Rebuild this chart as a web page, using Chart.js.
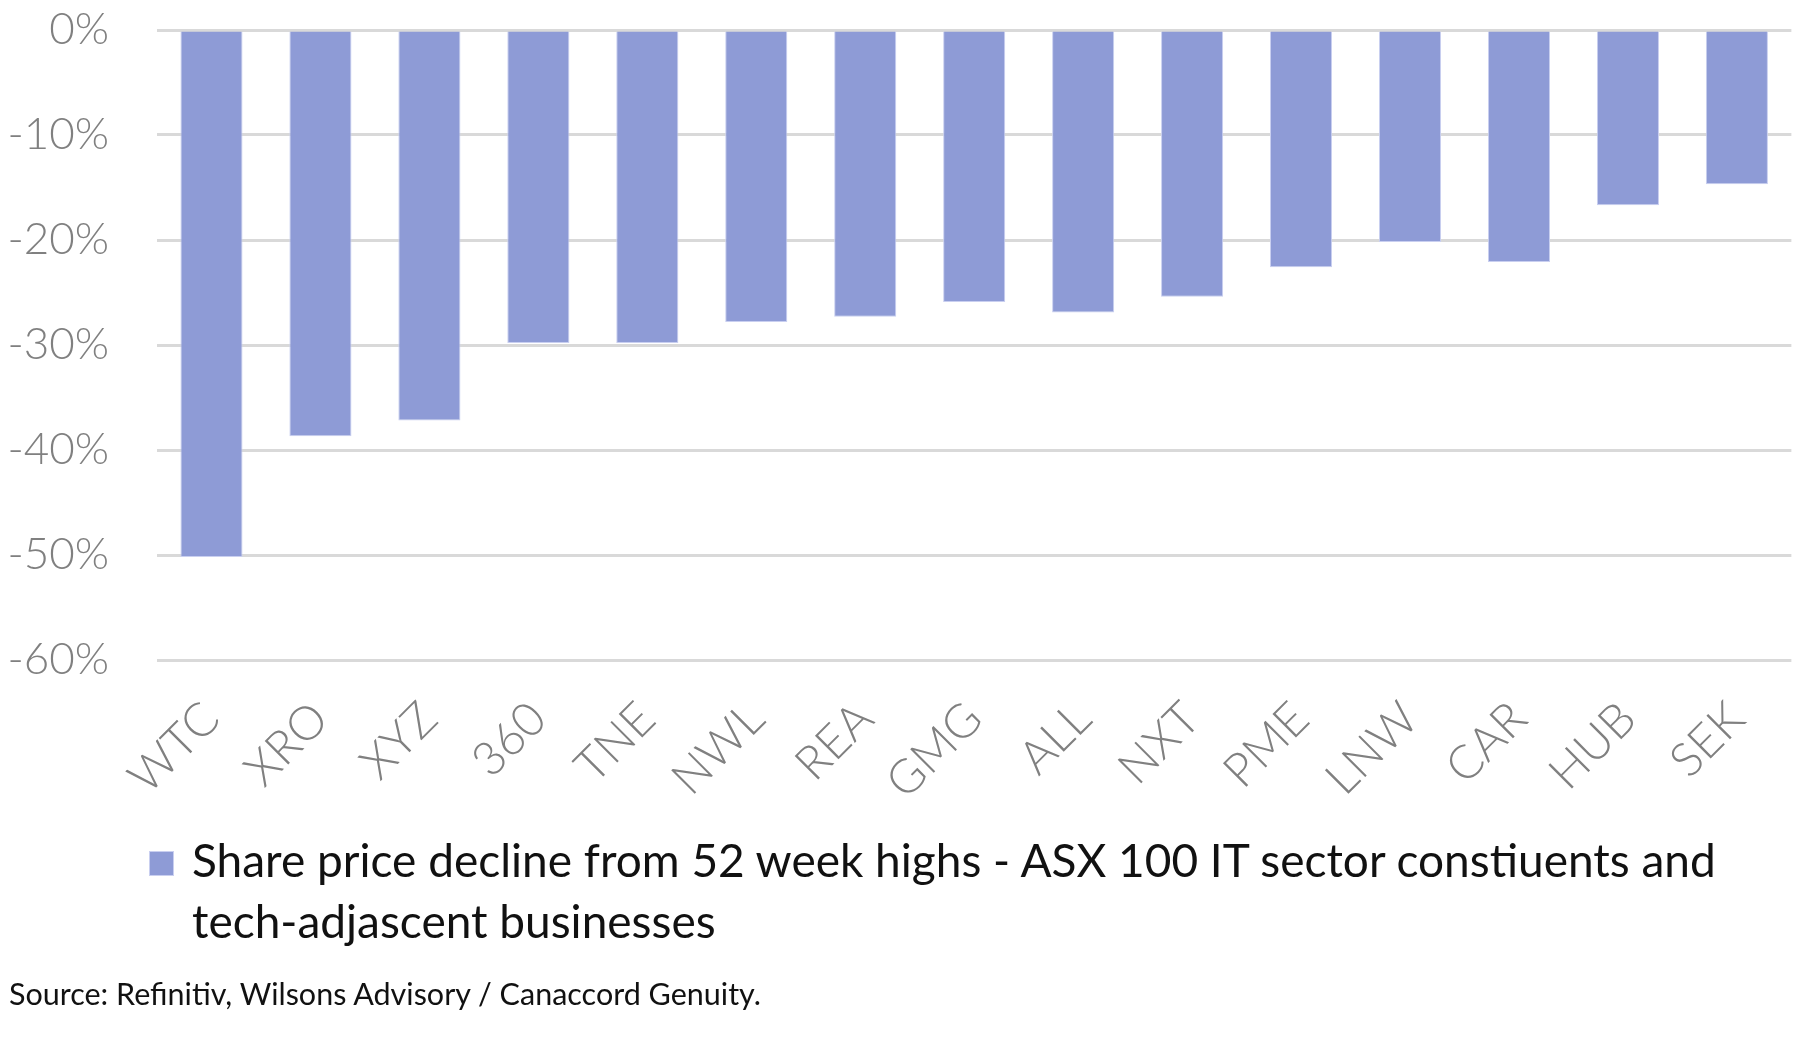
<!DOCTYPE html>
<html>
<head>
<meta charset="utf-8">
<script src="https://cdn.jsdelivr.net/npm/chart.js@4/dist/chart.umd.min.js"></script>
<style>
  html, body { margin: 0; padding: 0; background: #ffffff; }
  #wrap { position: relative; width: 1800px; height: 1060px; overflow: hidden; }
  #c { position: absolute; left: 0; top: 0; }
  #legendBox { position: absolute; left: 149px; top: 851px; width: 25px; height: 25px;
    background: #8e9bd6; border: 1px solid #c9cff0; box-sizing: border-box; }
  #legendText { position: absolute; left: 192px; top: 829px; width: 1600px;
    font-family: 'Lato', sans-serif; font-size: 46px; line-height: 61px; color: #111111; white-space: nowrap; }
  #source { position: absolute; left: 9px; top: 975px;
    font-family: 'Lato', sans-serif; font-size: 30.5px; line-height: 36px; color: #111111; white-space: nowrap; }
</style>
</head>
<body>
<div id="wrap">
  <canvas id="c" width="1800" height="1060"></canvas>
  <div id="legendBox"></div>
  <div id="legendText"></div>
  <div id="source"></div>
</div>
<script>
const categories = ['WTC','XRO','XYZ','360','TNE','NWL','REA','GMG','ALL','NXT','PME','LNW','CAR','HUB','SEK'];
const declineValues = [-50.2, -38.7, -37.2, -29.8, -29.8, -27.8, -27.3, -25.9, -26.9, -25.4, -22.6, -20.2, -22.1, -16.7, -14.7];
const seriesLabelLines = ['Share price decline from 52 week highs - ASX 100 IT sector constiuents and', 'tech-adjascent businesses'];
const sourceText = 'Source: Refinitiv, Wilsons Advisory / Canaccord Genuity.';
const yMin = -60, yMax = 0, yStep = 10;

document.getElementById('legendText').innerHTML = seriesLabelLines.join('<br>');
document.getElementById('source').textContent = sourceText;

const ctx = document.getElementById('c').getContext('2d');
new Chart(ctx, {
  type: 'bar',
  data: {
    labels: categories,
    datasets: [{
      label: seriesLabelLines.join(' '),
      data: declineValues,
      backgroundColor: '#8e9bd6',
      borderColor: '#c9cff0',
      borderWidth: 1,
      categoryPercentage: 1.0,
      barPercentage: 0.57
    }]
  },
  options: {
    responsive: false,
    animation: false,
    devicePixelRatio: 1,
    layout: { padding: { left: 0, right: 7, top: 30, bottom: 230 } },
    scales: {
      x: {
        grid: { display: false },
        border: { display: false },
        ticks: {
          color: '#808080',
          font: { family: 'Lato', size: 47, weight: '300' },
          minRotation: 45,
          maxRotation: 45,
          padding: 23
        },
        afterFit: (s) => { s.height = 170; }
      },
      y: {
        min: yMin,
        max: yMax,
        border: { display: false },
        grid: { color: '#d9d9d9', lineWidth: 3, drawTicks: false },
        ticks: {
          stepSize: yStep,
          color: '#808080',
          font: { family: 'Lato', size: 44, weight: '300' },
          padding: 48,
          callback: (v) => v + '%'
        },
        afterFit: (s) => { s.width = 157; s.paddingTop = 0; s.paddingBottom = 0; }
      }
    },
    plugins: {
      legend: { display: false },
      title: { display: false },
      tooltip: { enabled: false }
    }
  }
});
</script>
</body>
</html>
